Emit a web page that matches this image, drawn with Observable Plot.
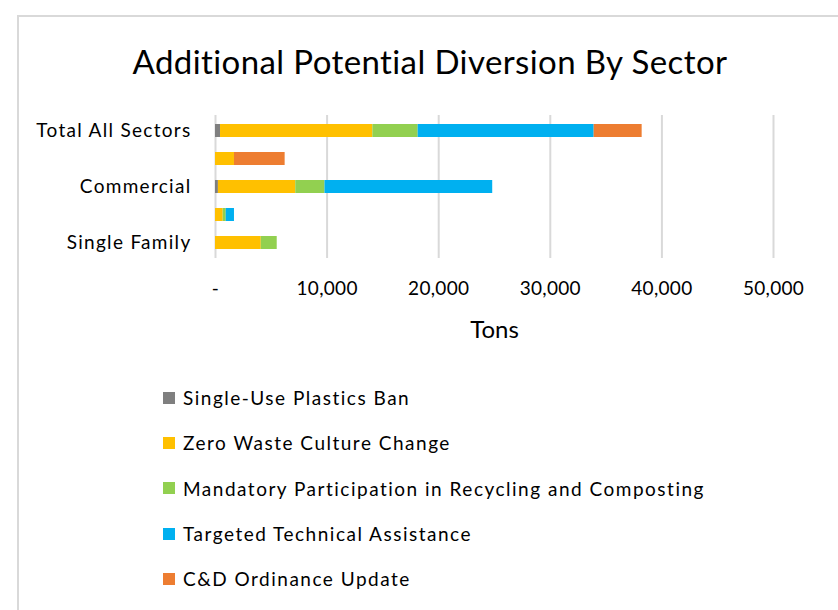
<!DOCTYPE html>
<html><head><meta charset="utf-8">
<script src="https://cdn.jsdelivr.net/npm/d3@7"></script>
<script src="https://cdn.jsdelivr.net/npm/@observablehq/plot@0.6"></script>
<style>
body{margin:0;background:#fff;font-family:Lato,sans-serif;}
#wrap{position:relative;width:838px;height:610px;overflow:hidden;background:#fff;}
#frame{position:absolute;left:17px;top:15px;width:840px;height:620px;border:2px solid #d9d9d9;box-sizing:border-box;}
#title{position:absolute;left:0;width:860px;top:41px;text-align:center;font-size:33px;letter-spacing:0.4px;color:#000;line-height:40px;}
#chart{position:absolute;left:0;top:100px;}
#legend{position:absolute;left:163px;top:375px;}
.item{display:flex;align-items:center;height:45.3px;font-size:19px;letter-spacing:1.5px;color:#000;}
.sw{width:12px;height:12px;margin-right:8px;flex:none;}
#chart g[aria-label="y-axis tick label"] text{letter-spacing:1.3px;}
#chart g[aria-label="x-axis tick label"] text{letter-spacing:0.3px;}
#chart g[aria-label="x-axis label"] text{font-size:24px;}
</style></head>
<body>
<div id="wrap">
  <div id="frame"></div>
  <div id="title">Additional  Potential Diversion By Sector</div>
  <div id="chart"></div>
  <div id="legend"></div>
</div>
<script>
const sectors = ["Total All Sectors", "Self Haul", "Commercial", "Multi-Family", "Single Family"];
const shownSectors = ["Total All Sectors", "Commercial", "Single Family"];
const series = ["Single-Use Plastics Ban", "Zero Waste Culture Change", "Mandatory Participation in Recycling and Composting", "Targeted Technical Assistance", "C&D Ordinance Update"];
const colors = ["#7f7f7f", "#ffc000", "#92d050", "#00b0f0", "#ed7d31"];
const xTicks = [0, 10000, 20000, 30000, 40000, 50000];

// values per sector, in order of `sectors`
const plasticsBan   = [450, 0, 260, 0, 0];
const zeroWaste     = [13650, 1700, 6930, 690, 4100];
const mandatory     = [4060, 0, 2620, 270, 1430];
const technical     = [15770, 0, 15030, 740, 0];
const cdOrdinance   = [4300, 4540, 0, 0, 0];
const seriesValues = [plasticsBan, zeroWaste, mandatory, technical, cdOrdinance];

const data = [];
sectors.forEach((s, i) => {
  series.forEach((k, j) => {
    data.push({sector: s, series: k, tons: seriesValues[j][i]});
  });
});

const chart = Plot.plot({
  width: 838,
  height: 250,
  marginLeft: 215,
  marginRight: 65,
  marginTop: 15,
  marginBottom: 92,
  style: {fontFamily: "Lato, sans-serif", fontSize: "19px", color: "#000", background: "transparent"},
  x: {domain: [0, 50000]},
  y: {domain: sectors, paddingInner: 0.52, paddingOuter: 0.26},
  color: {domain: series, range: colors},
  marks: [
    Plot.ruleX(xTicks, {stroke: "#d9d9d9", strokeWidth: 2}),
    Plot.barX(data, {x: "tons", y: "sector", fill: "series", order: series}),
    Plot.axisX({ticks: xTicks, tickSize: 0, tickPadding: 23,
      tickFormat: d => d === 0 ? "-" : d3.format(",")(d),
      label: "Tons", labelAnchor: "center", labelArrow: "none", labelOffset: 79, fontSize: 19}),
    Plot.axisY({ticks: shownSectors, tickSize: 0, tickPadding: 24, label: null, fontSize: 19})
  ]
});
document.getElementById("chart").appendChild(chart);

const legend = document.getElementById("legend");
series.forEach((name, i) => {
  const row = document.createElement("div");
  row.className = "item";
  const sw = document.createElement("span");
  sw.className = "sw";
  sw.style.background = colors[i];
  const t = document.createElement("span");
  t.textContent = name;
  row.appendChild(sw);
  row.appendChild(t);
  legend.appendChild(row);
});
</script>
</body></html>
